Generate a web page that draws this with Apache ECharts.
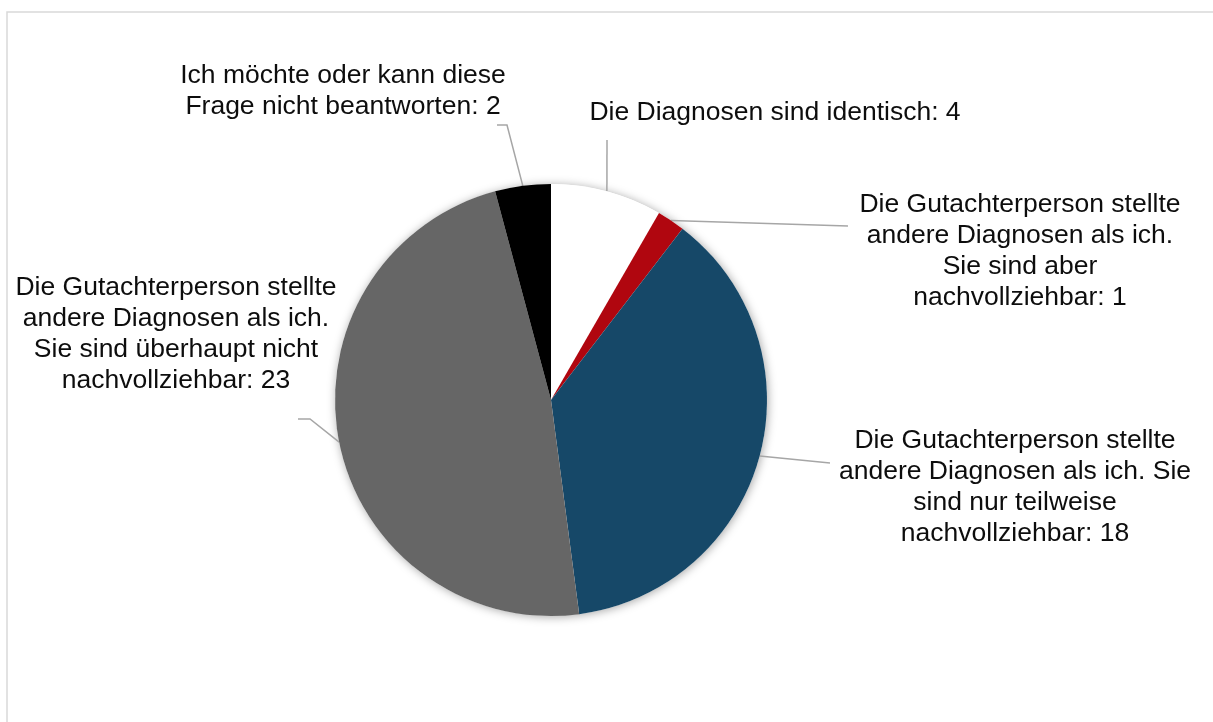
<!DOCTYPE html>
<html>
<head>
<meta charset="utf-8">
<script src="https://cdn.jsdelivr.net/npm/echarts@6/dist/echarts.min.js"></script>
<style>
  html, body { margin: 0; padding: 0; background: #ffffff; }
  #chart { width: 1213px; height: 722px; }
</style>
</head>
<body>
<div id="chart"></div>
<script>
// ---- Data ----
const categories = [
  'Die Diagnosen sind identisch',
  'Die Gutachterperson stellte andere Diagnosen als ich. Sie sind aber nachvollziehbar',
  'Die Gutachterperson stellte andere Diagnosen als ich. Sie sind nur teilweise nachvollziehbar',
  'Die Gutachterperson stellte andere Diagnosen als ich. Sie sind überhaupt nicht nachvollziehbar',
  'Ich möchte oder kann diese Frage nicht beantworten'
];
const values = [4, 1, 18, 23, 2];
const labelLinesText = [
  ['Die Diagnosen sind identisch'],
  ['Die Gutachterperson stellte', 'andere Diagnosen als ich.', 'Sie sind aber', 'nachvollziehbar'],
  ['Die Gutachterperson stellte', 'andere Diagnosen als ich. Sie', 'sind nur teilweise', 'nachvollziehbar'],
  ['Die Gutachterperson stellte', 'andere Diagnosen als ich.', 'Sie sind überhaupt nicht', 'nachvollziehbar'],
  ['Ich möchte oder kann diese', 'Frage nicht beantworten']
];
const colors = ['#ffffff', '#b0060f', '#164868', '#666666', '#000000'];

// ---- Layout (label placement) ----
const labelPos = [
  { x: 775, y: 113 },
  { x: 1020, y: 251 },
  { x: 1015, y: 487 },
  { x: 176, y: 334 },
  { x: 343, y: 91 }
];
// extra leader-line bends (after the slice edge point)
const leaderBends = [
  [[607, 140], [607, 140]],
  [[848, 226], [848, 226]],
  [[830, 463], [830, 463]],
  [[310, 419], [298, 419]],
  [[507, 125], [497, 125]]
];

const total = values.reduce((a, b) => a + b, 0);
const center = [551, 400];
const radius = 216;

const chart = echarts.init(document.getElementById('chart'), null, { renderer: 'canvas' });

const option = {
  backgroundColor: '#ffffff',
  animation: false,
  graphic: [{
    type: 'rect',
    shape: { x: 7, y: 12, width: 1400, height: 900 },
    style: { fill: 'none', stroke: '#d9d9d9', lineWidth: 1.5 },
    silent: true,
    z: 0
  }],
  series: [
    {
      // soft shadow backdrop for the whole pie
      type: 'pie',
      silent: true,
      center: center,
      radius: radius,
      z: 1,
      label: { show: false },
      labelLine: { show: false },
      itemStyle: {
        color: '#ffffff',
        shadowBlur: 10,
        shadowColor: 'rgba(0,0,0,0.35)',
        shadowOffsetX: 1,
        shadowOffsetY: 1
      },
      data: [{ value: total, name: 'total' }]
    },
    {
      type: 'pie',
      center: center,
      radius: radius,
      startAngle: 90,
      clockwise: true,
      z: 2,
      avoidLabelOverlap: false,
      data: categories.map((c, i) => ({
        name: c,
        value: values[i],
        itemStyle: { color: colors[i] }
      })),
      label: {
        show: true,
        fontFamily: '"Liberation Sans", Arial, sans-serif',
        fontSize: 26.5,
        lineHeight: 31,
        color: '#0d0d0d',
        align: 'center',
        formatter: (p) => {
          const lines = labelLinesText[p.dataIndex].slice();
          lines[lines.length - 1] = lines[lines.length - 1] + ': ' + p.value;
          return lines.join('\n');
        }
      },
      labelLine: {
        show: true,
        smooth: false,
        lineStyle: { color: '#a6a6a6', width: 1.5 }
      },
      labelLayout: (params) => {
        const i = params.dataIndex;
        const start = params.labelLinePoints ? params.labelLinePoints[0] : null;
        const res = {
          x: labelPos[i].x,
          y: labelPos[i].y,
          align: 'center',
          verticalAlign: 'middle'
        };
        if (start) {
          res.labelLinePoints = [start].concat(leaderBends[i]);
        }
        return res;
      }
    }
  ]
};

chart.setOption(option);
</script>
</body>
</html>
